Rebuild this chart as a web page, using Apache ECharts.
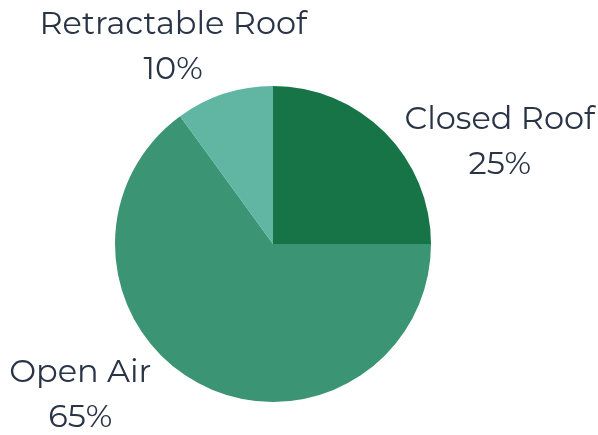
<!DOCTYPE html>
<html>
<head>
<meta charset="utf-8">
<script src="https://cdn.jsdelivr.net/npm/echarts@6/dist/echarts.min.js"></script>
<style>
  html, body { margin: 0; padding: 0; background: #ffffff; }
  #chart { width: 598px; height: 435px; }
</style>
</head>
<body>
<div id="chart"></div>
<script>
// Stadium roof types, share of venues
const categories = ['Closed Roof', 'Open Air', 'Retractable Roof'];
const shares = [25, 65, 10];
const sliceColors = ['#177446', '#3b9474', '#60b6a3'];

// Pie geometry
const CX = 273, CY = 244, R = 158;
// Offset of each label block's centre from the rim point at its slice's mid-angle
const labelNudge = [[115, 10], [-121, 10], [-51, -47]];

const total = shares.reduce((a, b) => a + b, 0);
const midAngles = [];
let acc = 0;
shares.forEach(v => {
  midAngles.push((acc + v / 2) / total * 2 * Math.PI);
  acc += v;
});

const chart = echarts.init(document.getElementById('chart'), null, { renderer: 'canvas' });
chart.setOption({
  animation: false,
  backgroundColor: '#ffffff',
  series: [{
    type: 'pie',
    center: [CX, CY],
    radius: R,
    startAngle: 90,
    clockwise: true,
    silent: true,
    data: categories.map((name, i) => ({
      name: name,
      value: shares[i],
      itemStyle: { color: sliceColors[i] }
    })),
    itemStyle: { borderWidth: 0 },
    label: {
      show: true,
      position: 'outside',
      formatter: '{b}\n{d}%',
      fontFamily: 'Montserrat, "Open Sans", sans-serif',
      fontSize: 32,
      lineHeight: 45,
      color: '#2a3447',
      align: 'center',
      overflow: 'none',
      width: 400
    },
    labelLine: { show: false },
    labelLayout: function (params) {
      const i = params.dataIndex;
      const a = midAngles[i];
      const ex = CX + R * Math.sin(a);
      const ey = CY - R * Math.cos(a);
      return {
        x: ex + labelNudge[i][0],
        y: ey + labelNudge[i][1],
        align: 'center',
        verticalAlign: 'middle'
      };
    }
  }]
});
</script>
</body>
</html>
